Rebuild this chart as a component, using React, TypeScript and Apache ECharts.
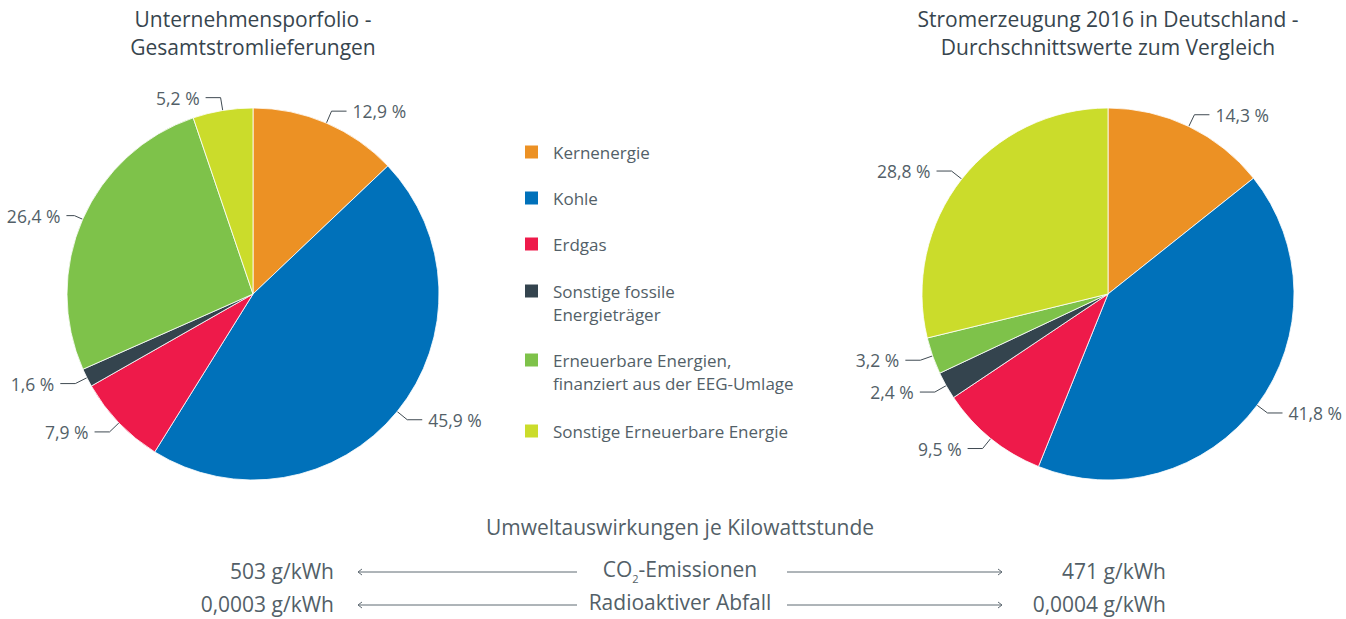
import React, { useEffect, useRef } from 'react';
import * as echarts from 'echarts';

const categories = [
  'Kernenergie',
  'Kohle',
  'Erdgas',
  'Sonstige fossile\nEnergieträger',
  'Erneuerbare Energien,\nfinanziert aus der EEG-Umlage',
  'Sonstige Erneuerbare Energie',
];
const colors = ['#EC9124', '#0071BA', '#EE1A4A', '#34444E', '#7EC24A', '#CBDC2B'];
const portfolioValues = [12.9, 45.9, 7.9, 1.6, 26.4, 5.2];
const germanyValues = [14.3, 41.8, 9.5, 2.4, 3.2, 28.8];
const pieTitles = [
  'Unternehmensporfolio -\nGesamtstromlieferungen',
  'Stromerzeugung 2016 in Deutschland -\nDurchschnittswerte zum Vergleich',
];
const impactTitle = 'Umweltauswirkungen je Kilowattstunde';
const impactMetrics = ['{a|CO}{s|2}{a|-Emissionen}', '{a|Radioaktiver Abfall}'];
const portfolioImpact = ['503 g/kWh', '0,0003 g/kWh'];
const germanyImpact = ['471 g/kWh', '0,0004 g/kWh'];

const FONT = '"Open Sans", "Liberation Sans", Arial, sans-serif';
const TEXT = '#535F68';
const TITLE = '#37454E';
const LINE = '#5F6A72';
const W = 400;

const fmt = (v: number) => v.toFixed(1).replace('.', ',') + ' %';

export default function App() {
  const ref = useRef<HTMLDivElement>(null);
  useEffect(() => {
    document.body.style.margin = '0';
    const chart = echarts.init(ref.current!, null, { renderer: 'svg' });

    const makePie = (values: number[], cx: number) => ({
      type: 'pie',
      center: [cx, 294],
      radius: 186,
      startAngle: 90,
      clockwise: true,
      silent: true,
      data: values.map((v, i) => {
        const item: any = {
          name: categories[i],
          value: v,
          itemStyle: { color: colors[i] },
        };
        // the wide left-hand label of the first pie needs a shorter leader to stay on the page
        if (cx < 600 && i === 4) item.labelLine = { length: 9, length2: 8 };
        return item;
      }),
      itemStyle: { borderColor: '#ffffff', borderWidth: 0.8 },
      label: {
        show: true,
        position: 'outside',
        formatter: (p: any) => fmt(p.value),
        color: TEXT,
        fontSize: 17.5,
        fontFamily: FONT,
        fontWeight: W,
        distanceToLabelLine: 6,
        overflow: 'none',
      },
      labelLine: {
        show: true,
        length: 13,
        length2: 15,
        lineStyle: { color: '#3F4A52', width: 1 },
      },
    });

    const legendText = {
      color: TEXT,
      fontSize: 17,
      fontFamily: FONT,
      fontWeight: W,
      lineHeight: 23,
    };
    const singleIcon = 'path://M0,0h13v13h-13ZM23,0L23,0';
    const doubleIcon = 'path://M0,0h13v13h-13ZM23,36L23,36';
    const baseLegend = {
      orient: 'vertical',
      left: 525,
      padding: 0,
      itemWidth: 23,
      selectedMode: false,
      itemStyle: { borderWidth: 0 },
      textStyle: legendText,
    };

    const font21 = `${W} 21px ${FONT}`;
    const rows = [571, 604];
    const graphics: any[] = [
      {
        type: 'text',
        style: {
          text: impactTitle,
          x: 680,
          y: 527,
          align: 'center',
          verticalAlign: 'middle',
          fill: TEXT,
          font: font21,
        },
      },
    ];
    rows.forEach((y, i) => {
      graphics.push(
        {
          type: 'text',
          style: {
            text: portfolioImpact[i],
            x: 334,
            y,
            align: 'right',
            verticalAlign: 'middle',
            fill: TEXT,
            font: font21,
          },
        },
        {
          type: 'text',
          style: {
            text: germanyImpact[i],
            x: 1166,
            y,
            align: 'right',
            verticalAlign: 'middle',
            fill: TEXT,
            font: font21,
          },
        },
        {
          type: 'text',
          style: {
            text: impactMetrics[i],
            x: 680,
            y,
            align: 'center',
            verticalAlign: 'middle',
            rich: {
              a: {
                fill: TEXT,
                fontSize: 21,
                fontWeight: W,
                fontFamily: FONT,
                lineHeight: 25,
                verticalAlign: 'bottom',
                padding: [0, 0, 4, 0],
              },
              s: {
                fill: TEXT,
                fontSize: 11,
                fontWeight: W,
                fontFamily: FONT,
                lineHeight: 12,
                verticalAlign: 'bottom',
              },
            },
          },
        },
        { type: 'line', shape: { x1: 358, y1: y + 1, x2: 577, y2: y + 1 }, style: { stroke: LINE, lineWidth: 1 } },
        { type: 'polyline', shape: { points: [[362, y - 2], [358, y + 1], [362, y + 4]] }, style: { stroke: LINE, lineWidth: 1, fill: null } },
        { type: 'line', shape: { x1: 787, y1: y + 1, x2: 1002, y2: y + 1 }, style: { stroke: LINE, lineWidth: 1 } },
        { type: 'polyline', shape: { points: [[998, y - 2], [1002, y + 1], [998, y + 4]] }, style: { stroke: LINE, lineWidth: 1, fill: null } }
      );
    });

    chart.setOption({
      animation: false,
      backgroundColor: '#ffffff',
      title: pieTitles.map((t, i) => ({
        text: t,
        left: i === 0 ? 253 : 1108,
        top: 5,
        padding: 0,
        textAlign: 'center',
        textStyle: {
          color: TITLE,
          fontSize: 21,
          lineHeight: 28,
          fontWeight: W,
          fontFamily: FONT,
        },
      })),
      legend: [
        {
          ...baseLegend,
          top: 140.5,
          itemHeight: 13,
          itemGap: 23,
          icon: singleIcon,
          data: categories.slice(0, 3),
        },
        {
          ...baseLegend,
          top: 279.5,
          itemHeight: 36,
          itemGap: 23,
          icon: doubleIcon,
          data: categories.slice(3, 5),
        },
        {
          ...baseLegend,
          top: 419.5,
          itemHeight: 13,
          itemGap: 23,
          icon: singleIcon,
          data: categories.slice(5),
        },
      ],
      series: [makePie(portfolioValues, 253), makePie(germanyValues, 1108)],
      graphic: graphics,
    });
    return () => chart.dispose();
  }, []);
  return <div ref={ref} style={{ width: 1346, height: 619 }} />;
}
